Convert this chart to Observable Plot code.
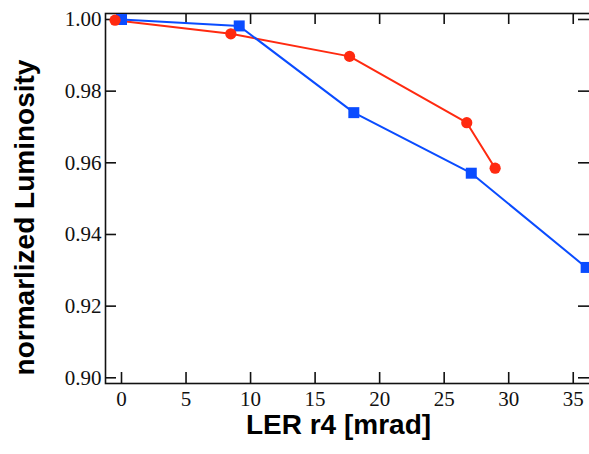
<!DOCTYPE html>
<html>
<head>
<meta charset="utf-8">
<script src="https://cdn.jsdelivr.net/npm/d3@7"></script>
<script src="https://cdn.jsdelivr.net/npm/@observablehq/plot@0.6"></script>
<style>
  html, body { margin: 0; padding: 0; background: #fff; }
  #chart svg { display: block; }
</style>
</head>
<body>
<div id="chart"></div>
<script>
// LER r4 scan: normalized luminosity for two configurations
const redX = [-0.5, 8.47, 17.67, 26.75, 28.95];
const redY = [0.9998, 0.9960, 0.9897, 0.9712, 0.9585];
const blueX = [0.0, 9.12, 18.0, 27.1, 36.0];
const blueY = [1.0000, 0.9982, 0.9740, 0.9571, 0.9308];

const xTicks = [0, 5, 10, 15, 20, 25, 30, 35];
const yTicks = [0.90, 0.92, 0.94, 0.96, 0.98, 1.00];

const xLabel = "LER r4 [mrad]";
const yLabel = "normarlized Luminosity";

const red = d3.zip(redX, redY).map(([x, y]) => ({x, y}));
const blue = d3.zip(blueX, blueY).map(([x, y]) => ({x, y}));

const W = 589, H = 454;
const mTop = 13, mBottom = 71, mLeft = 105, mRight = 0;
const frameW = W - mLeft - mRight, frameH = H - mTop - mBottom;
const tickLen = 11;
const serif = "'Liberation Serif', 'Times New Roman', serif";
const sans = "'Liberation Sans', Arial, Helvetica, sans-serif";

const chart = Plot.plot({
  width: W,
  height: H,
  marginTop: mTop,
  marginBottom: mBottom,
  marginLeft: mLeft,
  marginRight: mRight,
  style: {fontFamily: serif, fontSize: "21px", color: "#111", background: "#fff"},
  x: {domain: [-1.24, 36.26]},
  y: {domain: [0.89841, 1.00167]},
  marks: [
    // tick labels only; tick marks drawn inward below
    Plot.axisX(xTicks, {anchor: "bottom", tickSize: 0, tickPadding: 8, label: null, fontSize: 21, fontFamily: serif, fill: "#111"}),
    Plot.axisY(yTicks, {anchor: "left", tickSize: 0, tickPadding: 4, tickFormat: d3.format(".2f"), label: null, fontSize: 21, fontFamily: serif, fill: "#111"}),
    // inward ticks on all four sides
    Plot.tickX(xTicks, {x: d => d, insetTop: frameH - tickLen, stroke: "#111", strokeWidth: 1.6}),
    Plot.tickX(xTicks, {x: d => d, insetBottom: frameH - tickLen, stroke: "#111", strokeWidth: 1.6}),
    Plot.tickY(yTicks, {y: d => d, insetRight: frameW - tickLen, stroke: "#111", strokeWidth: 1.6}),
    Plot.tickY(yTicks, {y: d => d, insetLeft: frameW - tickLen, stroke: "#111", strokeWidth: 1.6}),
    Plot.frame({insetRight: -3, stroke: "#111", strokeWidth: 1.6}),
    // series
    Plot.line(red, {x: "x", y: "y", stroke: "#ff2a10", strokeWidth: 2}),
    Plot.line(blue, {x: "x", y: "y", stroke: "#0a4cff", strokeWidth: 2}),
    Plot.dot(blue, {x: "x", y: "y", symbol: "square", r: 6.2, fill: "#0a4cff", stroke: "none"}),
    Plot.dot(red, {x: "x", y: "y", symbol: "circle", r: 5.6, fill: "#ff2a10", stroke: "none"}),
    // axis titles
    Plot.text([xLabel], {text: d => d, frameAnchor: "bottom", dy: 50, dx: -9, fontFamily: sans, fontWeight: "bold", fontSize: 28, fill: "#000"}),
    Plot.text([yLabel], {text: d => d, frameAnchor: "left", textAnchor: "middle", rotate: -90, dx: -80, dy: 19, fontFamily: sans, fontWeight: "bold", fontSize: 28, fill: "#000"})
  ]
});

document.getElementById("chart").append(chart);
</script>
</body>
</html>
